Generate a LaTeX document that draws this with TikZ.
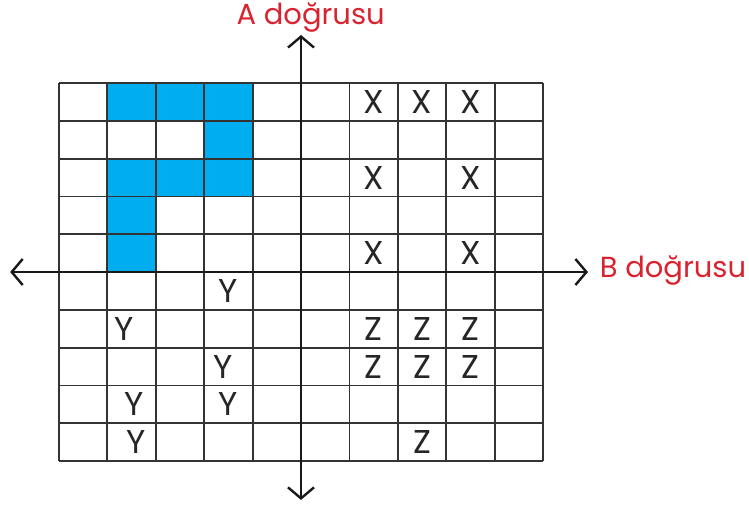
\documentclass[tikz,border=0pt]{standalone}
\usepackage{fontspec}
\setmainfont{Poppins}
\usetikzlibrary{arrows.meta}
\definecolor{lblred}{HTML}{D9232E}
\definecolor{cellblue}{HTML}{00AEEF}

\begin{document}
\begin{tikzpicture}[x=48.4pt,y=37.8pt,
  axis/.style={line width=2.6pt,black!90,{Straight Barb[length=11pt,width=26pt,line width=2.4pt]}-{Straight Barb[length=11pt,width=26pt,line width=2.4pt]}},
  lbl/.style={text=lblred,font=\fontsize{29}{34}\selectfont,inner sep=0pt},
  sym/.style={text=black!85,font=\fontsize{33}{36}\selectfont,inner sep=0pt}]
\useasboundingbox (-6.219,-6.296) rectangle (9.256,7.196);
% blue cells
\foreach \c/\r in {1/0,2/0,3/0,3/1,1/2,2/2,3/2,1/3,1/4}
  \fill[cellblue] (-5+\c,5-\r) rectangle ++(1,-1);
% grid
\foreach \k in {-5,...,5}{
  \draw[line width=1.8pt,black!80] (\k,-5)--(\k,5);
  \draw[line width=1.8pt,black!80] (-5,\k)--(5,\k);}
% axes
\coordinate (west) at (-6.01,0);\coordinate (east) at (5.93,0);
\coordinate (south) at (0,-6.03);\coordinate (north) at (0,6.27);
\draw[axis] (west)--(east);
\draw[axis] (south)--(north);
\node[lbl] (alabel) at (0.2,6.72) {A doğrusu};
\node[lbl,anchor=west] (blabel) at (6.17,0.05) {B doğrusu};
% letters
\foreach \c/\r [count=\i] in {6/0,7/0,8/0,6/2,8/2,6/4,8/4}
  \node[sym] (x\i) at (-4.5+\c,4.5-\r) {X};
\foreach \c/\r/\d [count=\i] in {3/5/0,1/6/-0.15,3/7/-0.1,1/8/0.05,3/8/0,1/9/0.1}
  \node[sym] (y\i) at (-4.5+\c+\d,4.5-\r) {Y};
\foreach \c/\r [count=\i] in {6/6,7/6,8/6,6/7,7/7,8/7,7/9}
  \node[sym] (z\i) at (-4.5+\c,4.5-\r) {Z};
\end{tikzpicture}
\end{document}
